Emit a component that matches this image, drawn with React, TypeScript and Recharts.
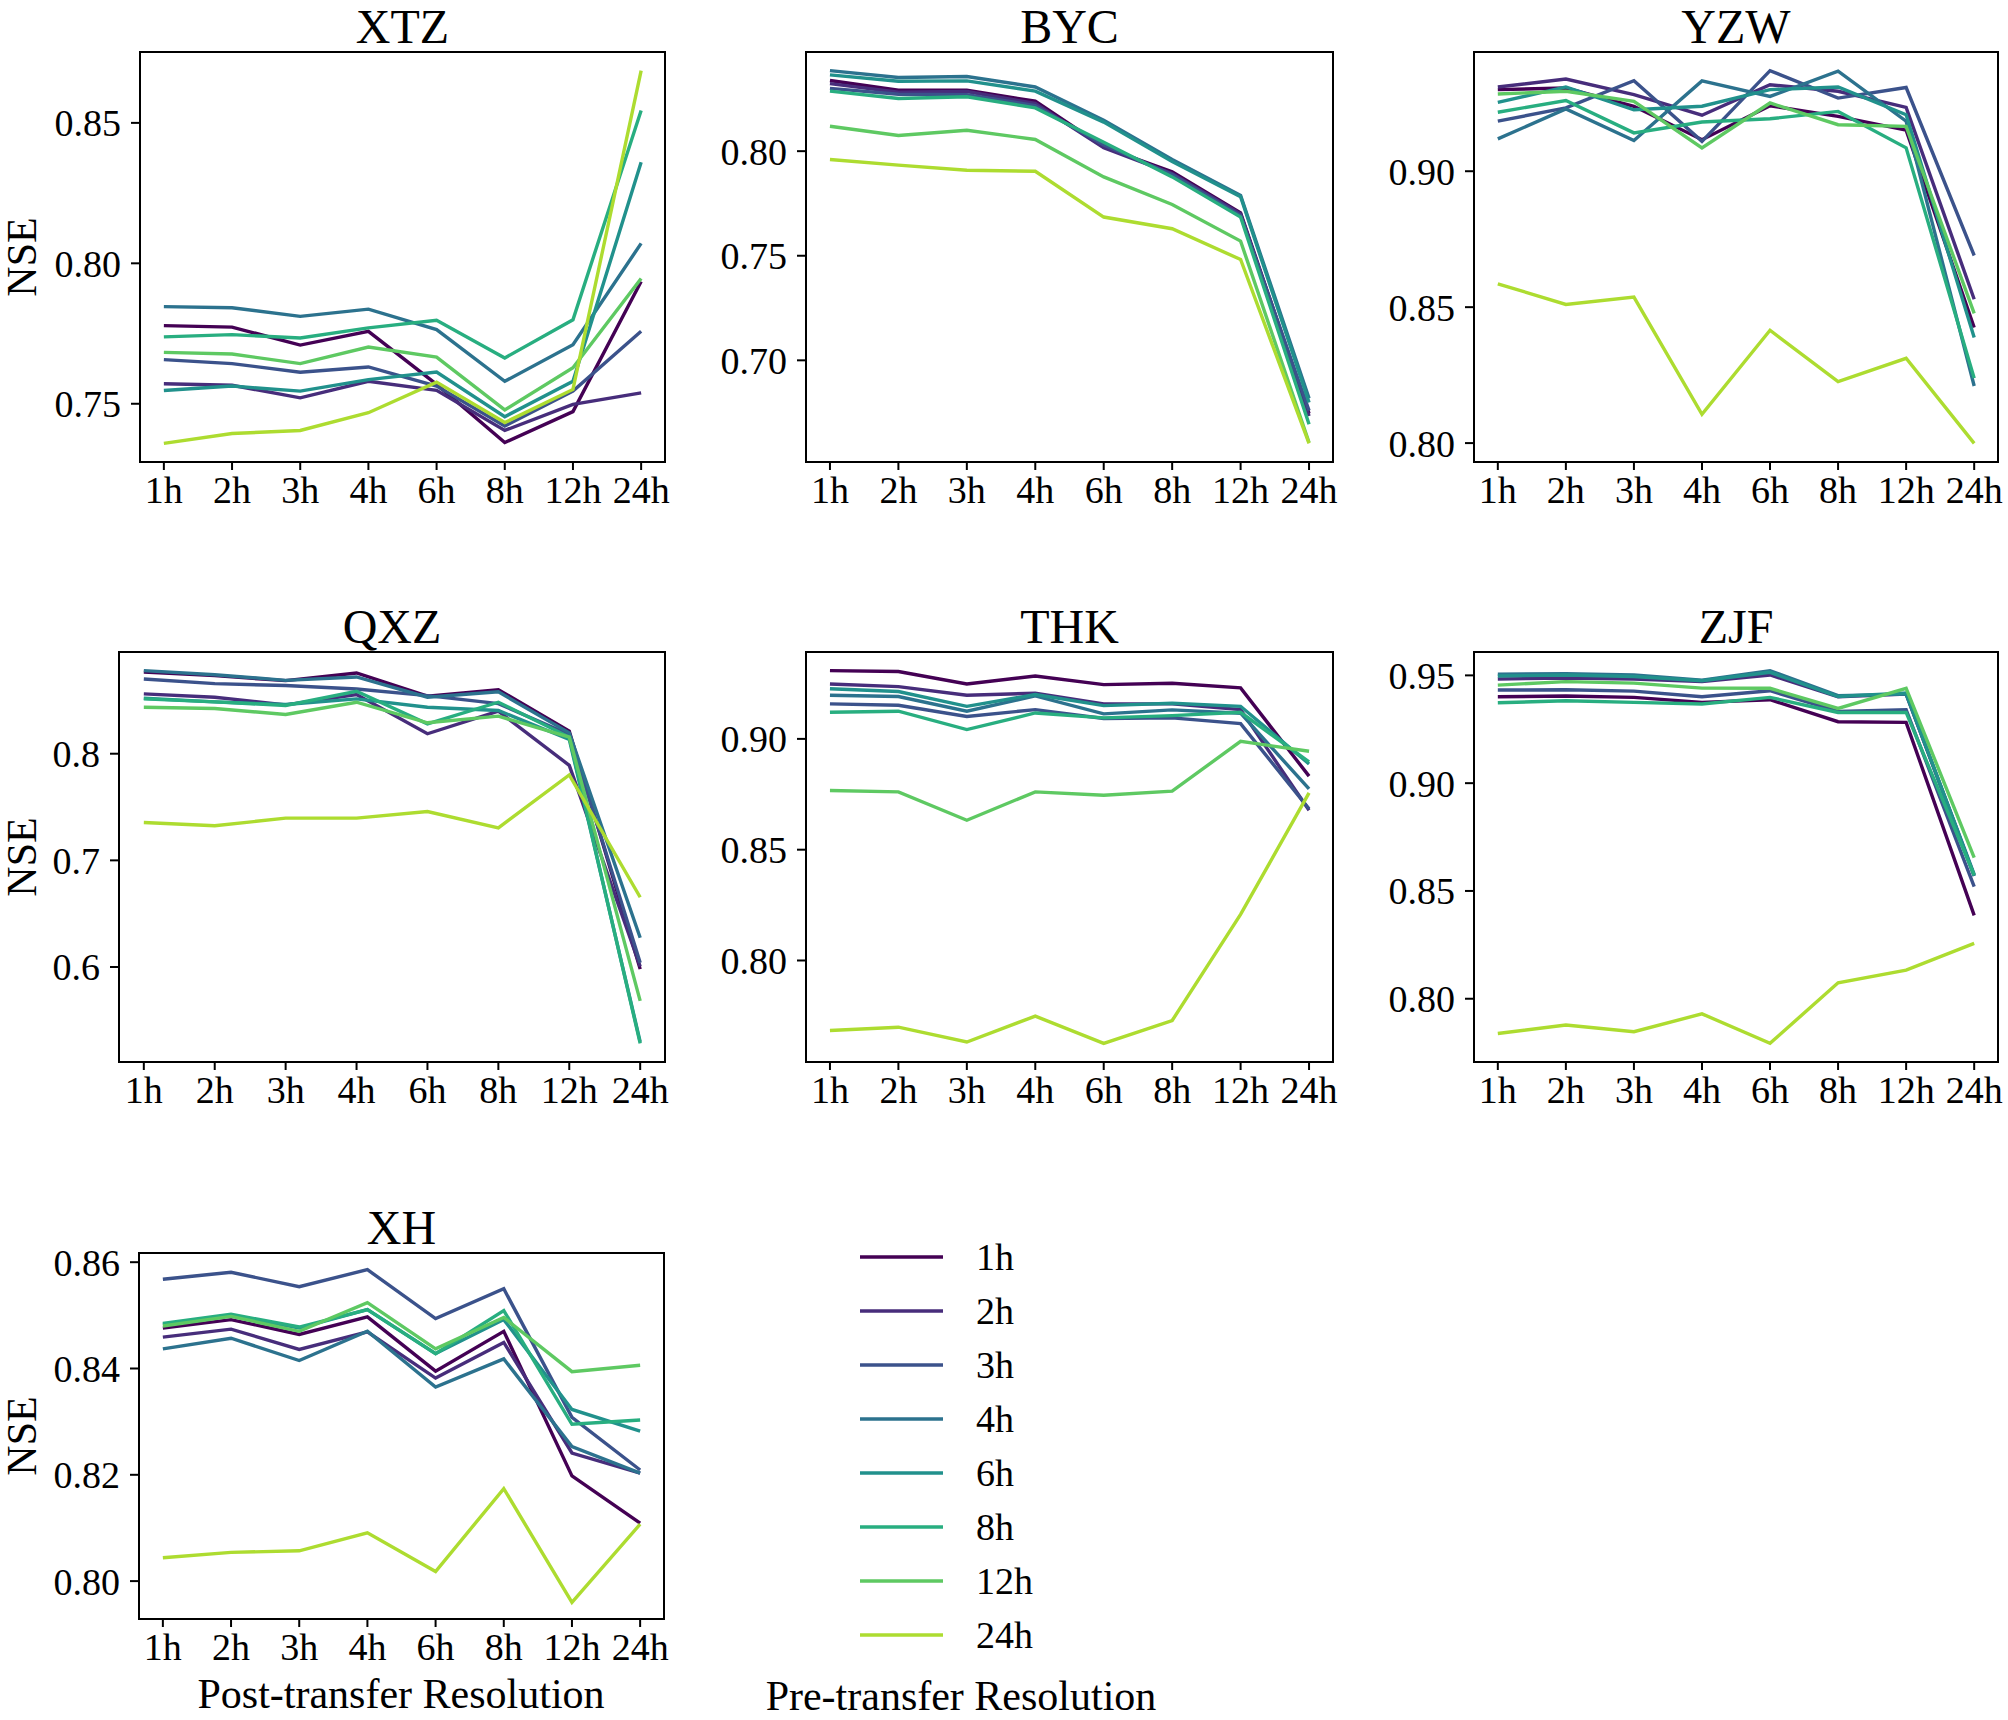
import { LineChart, Line, XAxis, YAxis, ReferenceArea } from "recharts";

// post-transfer resolution on the x axis, pre-transfer resolution per line
const resolutions = ["1h", "2h", "3h", "4h", "6h", "8h", "12h", "24h"];
const colors = ["#440154", "#472d7b", "#3b528b", "#2c728e", "#21918c", "#28ae80", "#5ec962", "#addc30"];

// NSE values, one row per pre-transfer resolution (1h ... 24h)
const xtz = [
  [0.7778, 0.7773, 0.7709, 0.7758, 0.7569, 0.7362, 0.7472, 0.7935],
  [0.7571, 0.7566, 0.7521, 0.758, 0.7548, 0.7405, 0.7498, 0.7539],
  [0.7657, 0.7643, 0.7612, 0.7631, 0.7563, 0.7421, 0.7545, 0.7758],
  [0.7846, 0.7842, 0.7811, 0.7837, 0.7764, 0.758, 0.771, 0.8071],
  [0.7547, 0.7563, 0.7545, 0.7586, 0.7613, 0.7454, 0.758, 0.836],
  [0.7738, 0.7746, 0.7734, 0.777, 0.7797, 0.7663, 0.7799, 0.8544],
  [0.7683, 0.7677, 0.7643, 0.7702, 0.7666, 0.7478, 0.7628, 0.7946],
  [0.7359, 0.7394, 0.7405, 0.7468, 0.7577, 0.7433, 0.7551, 0.8686],
];

const byc = [
  [0.8338, 0.8291, 0.8291, 0.8239, 0.802, 0.7901, 0.7705, 0.6745],
  [0.8323, 0.8282, 0.8285, 0.8228, 0.8016, 0.7893, 0.77, 0.6734],
  [0.83, 0.8272, 0.827, 0.8218, 0.803, 0.7888, 0.7692, 0.676],
  [0.8385, 0.8352, 0.8357, 0.8307, 0.8148, 0.796, 0.7788, 0.6818],
  [0.8365, 0.8334, 0.8336, 0.8287, 0.8139, 0.7951, 0.7782, 0.6798],
  [0.8287, 0.8252, 0.826, 0.8207, 0.8043, 0.7877, 0.7685, 0.6694],
  [0.8119, 0.8075, 0.81, 0.8056, 0.7877, 0.7745, 0.757, 0.6607],
  [0.796, 0.7933, 0.7909, 0.7904, 0.7685, 0.7629, 0.7482, 0.6603],
];

const yzw = [
  [0.93, 0.9306, 0.9239, 0.9116, 0.9241, 0.9202, 0.9151, 0.8425],
  [0.931, 0.9339, 0.9282, 0.9206, 0.9318, 0.9294, 0.9235, 0.8529],
  [0.9184, 0.9233, 0.9333, 0.911, 0.937, 0.9269, 0.9308, 0.869],
  [0.9119, 0.9229, 0.9113, 0.9332, 0.9275, 0.9368, 0.9184, 0.821],
  [0.9253, 0.931, 0.9226, 0.9239, 0.93, 0.931, 0.9208, 0.8388],
  [0.9217, 0.926, 0.9141, 0.9181, 0.9193, 0.922, 0.9086, 0.8239],
  [0.9284, 0.9294, 0.9257, 0.9086, 0.9251, 0.9171, 0.9165, 0.8477],
  [0.8586, 0.851, 0.8537, 0.8106, 0.8415, 0.8226, 0.8312, 0.7999],
];

const qxz = [
  [0.8766, 0.8732, 0.8685, 0.8757, 0.8539, 0.8601, 0.8212, 0.598],
  [0.8561, 0.853, 0.8458, 0.8555, 0.8187, 0.8399, 0.7891, 0.6005],
  [0.8701, 0.8657, 0.8639, 0.8607, 0.8545, 0.847, 0.8181, 0.604],
  [0.8779, 0.8741, 0.8688, 0.872, 0.853, 0.858, 0.8196, 0.6274],
  [0.852, 0.8486, 0.8461, 0.8514, 0.8436, 0.8405, 0.8134, 0.5299],
  [0.8514, 0.8486, 0.8452, 0.8586, 0.828, 0.8483, 0.8156, 0.5284],
  [0.8436, 0.8424, 0.8368, 0.8483, 0.829, 0.8352, 0.8156, 0.5682],
  [0.7355, 0.7324, 0.7396, 0.7396, 0.7458, 0.7305, 0.7801, 0.6654],
];

const thk = [
  [0.9308, 0.9304, 0.9248, 0.9284, 0.9245, 0.9251, 0.923, 0.8832],
  [0.9248, 0.9236, 0.9197, 0.9206, 0.9158, 0.9158, 0.9132, 0.8678],
  [0.9158, 0.9152, 0.9101, 0.9132, 0.9092, 0.9095, 0.9069, 0.8684],
  [0.9197, 0.9191, 0.9125, 0.9194, 0.9113, 0.9131, 0.9116, 0.8774],
  [0.9226, 0.9214, 0.9147, 0.92, 0.915, 0.9161, 0.9147, 0.8887],
  [0.912, 0.9125, 0.9042, 0.9117, 0.9095, 0.9105, 0.912, 0.8896],
  [0.8767, 0.8761, 0.8633, 0.8761, 0.8746, 0.8764, 0.8989, 0.8944],
  [0.7684, 0.7699, 0.7632, 0.7749, 0.7626, 0.7729, 0.8208, 0.8756],
];

const zjf = [
  [0.9401, 0.9404, 0.9398, 0.9375, 0.9387, 0.9285, 0.9282, 0.8387],
  [0.9483, 0.9488, 0.9483, 0.9471, 0.9502, 0.9401, 0.9413, 0.857],
  [0.9432, 0.9433, 0.9427, 0.9401, 0.9429, 0.9333, 0.9341, 0.852],
  [0.9505, 0.9508, 0.9502, 0.9478, 0.9522, 0.9406, 0.9413, 0.8577],
  [0.9497, 0.9502, 0.9495, 0.9475, 0.9514, 0.9402, 0.9418, 0.857],
  [0.9373, 0.9382, 0.9375, 0.9367, 0.9398, 0.9328, 0.9328, 0.8573],
  [0.9455, 0.9471, 0.9464, 0.9441, 0.944, 0.9347, 0.944, 0.8655],
  [0.7839, 0.7878, 0.7847, 0.793, 0.7793, 0.8074, 0.8133, 0.8257],
];

const xh = [
  [0.8476, 0.8492, 0.8464, 0.8497, 0.8395, 0.847, 0.8198, 0.8109],
  [0.8459, 0.8474, 0.8436, 0.8469, 0.8382, 0.8449, 0.8241, 0.8203],
  [0.8568, 0.8581, 0.8554, 0.8586, 0.8494, 0.855, 0.8308, 0.8209],
  [0.8437, 0.8457, 0.8415, 0.847, 0.8365, 0.8418, 0.8253, 0.8203],
  [0.8483, 0.85, 0.8476, 0.8511, 0.8428, 0.8492, 0.8323, 0.8282],
  [0.8485, 0.8502, 0.8478, 0.8511, 0.8428, 0.8509, 0.8295, 0.8303],
  [0.848, 0.8498, 0.847, 0.8524, 0.8437, 0.8496, 0.8394, 0.8406],
  [0.8044, 0.8054, 0.8057, 0.8091, 0.8018, 0.8174, 0.796, 0.8107],
];

const ticks2 = [0.75, 0.8, 0.85];
const ticksByc = [0.7, 0.75, 0.8];
const ticksHigh = [0.8, 0.85, 0.9];
const ticksQxz = [0.6, 0.7, 0.8];
const ticksZjf = [0.8, 0.85, 0.9, 0.95];
const ticksXh = [0.8, 0.82, 0.84, 0.86];

const FONT = "'Liberation Serif', 'Times New Roman', serif";
const YW = 110;
const XAH = 64;
const PT = 24; // room above the frame for the top tick label
const PR = 34; // room right of the frame for "24h"

const panels = [
  { title: "XTZ", values: xtz, ticks: ticks2, digits: 2, box: [140, 52, 525, 410], nse: true },
  { title: "BYC", values: byc, ticks: ticksByc, digits: 2, box: [806, 52, 527, 410], nse: false },
  { title: "YZW", values: yzw, ticks: ticksHigh, digits: 2, box: [1474, 52, 524, 410], nse: false },
  { title: "QXZ", values: qxz, ticks: ticksQxz, digits: 1, box: [119, 652, 546, 410], nse: true },
  { title: "THK", values: thk, ticks: ticksHigh, digits: 2, box: [806, 652, 527, 410], nse: false },
  { title: "ZJF", values: zjf, ticks: ticksZjf, digits: 2, box: [1474, 652, 524, 410], nse: false },
  { title: "XH", values: xh, ticks: ticksXh, digits: 2, box: [139, 1253, 525, 366], nse: true },
];

type PanelDef = (typeof panels)[number];

function Panel({ p }: { p: PanelDef }) {
  const flat = p.values.flat();
  const lo = Math.min(...flat);
  const hi = Math.max(...flat);
  const m = (hi - lo) * 0.05;
  const domain = [lo - m, hi + m];
  const rows = resolutions.map((r, i) => {
    const o: any = { i, name: r };
    p.values.forEach((s, k) => (o["s" + k] = s[i]));
    return o;
  });
  const [l, t, w, h] = p.box;

  const xTick = (props: any) => (
    <text x={props.x} y={props.y} dy="0.71em" textAnchor="middle" fontSize={38} fontFamily={FONT} fill="#000">
      {resolutions[props.payload.value]}
    </text>
  );
  const yTick = (props: any) => (
    <text x={props.x} y={props.y} dy="0.355em" textAnchor="end" fontSize={38} fontFamily={FONT} fill="#000">
      {Number(props.payload.value).toFixed(p.digits)}
    </text>
  );

  return (
    <div style={{ position: "absolute", left: l - YW, top: t - PT, fontFamily: FONT }}>
      <LineChart
        width={YW + w + PR}
        height={h + PT + XAH}
        data={rows}
        margin={{ top: PT, right: PR, bottom: 0, left: 0 }}
      >
        <XAxis
          type="number"
          dataKey="i"
          domain={[-0.35, 7.35]}
          allowDataOverflow
          ticks={resolutions.map((_, i) => i)}
          interval={0}
          height={XAH}
          axisLine={false}
          tickLine={{ stroke: "#000", strokeWidth: 2 }}
          tickSize={8}
          tickMargin={6}
          tick={xTick}
        />
        <YAxis
          type="number"
          domain={domain}
          allowDataOverflow
          ticks={p.ticks}
          interval={0}
          width={YW}
          axisLine={false}
          tickLine={{ stroke: "#000", strokeWidth: 2 }}
          tickSize={9}
          tickMargin={10}
          tick={yTick}
        />
        {p.values.map((_, k) => (
          <Line
            key={k}
            type="linear"
            dataKey={"s" + k}
            stroke={colors[k]}
            strokeWidth={3.4}
            dot={false}
            activeDot={false}
            isAnimationActive={false}
          />
        ))}
        <ReferenceArea
          x1={-0.35}
          x2={7.35}
          y1={domain[0]}
          y2={domain[1]}
          fill="none"
          fillOpacity={0}
          stroke="#000"
          strokeWidth={2}
          ifOverflow="visible"
        />
      </LineChart>
    </div>
  );
}

export default function App() {
  return (
    <div style={{ position: "absolute", left: 0, top: 0, width: 2008, height: 1720, background: "#fff" }}>
      {panels.map((p) => (
        <Panel key={p.title} p={p} />
      ))}
      <svg
        width={2008}
        height={1720}
        style={{ position: "absolute", left: 0, top: 0, pointerEvents: "none" }}
        fontFamily={FONT}
      >
        {panels.map((p) => {
          const [l, t, w, h] = p.box;
          return (
            <g key={p.title}>
              <text x={l + w / 2} y={t - 9} textAnchor="middle" fontSize={48} fill="#000">
                {p.title}
              </text>
              {p.nse && (
                <text
                  transform={`translate(36, ${t + h / 2}) rotate(-90)`}
                  textAnchor="middle"
                  fontSize={42}
                  fill="#000"
                >
                  NSE
                </text>
              )}
            </g>
          );
        })}
        <text x={401} y={1708} textAnchor="middle" fontSize={42} fill="#000">
          Post-transfer Resolution
        </text>
        {resolutions.map((r, k) => (
          <g key={r}>
            <line x1={860} x2={943} y1={1257 + 54 * k} y2={1257 + 54 * k} stroke={colors[k]} strokeWidth={3.4} />
            <text x={976} y={1257 + 54 * k + 13} fontSize={38} fill="#000">
              {r}
            </text>
          </g>
        ))}
        <text x={961} y={1710} textAnchor="middle" fontSize={42} fill="#000">
          Pre-transfer Resolution
        </text>
      </svg>
    </div>
  );
}
